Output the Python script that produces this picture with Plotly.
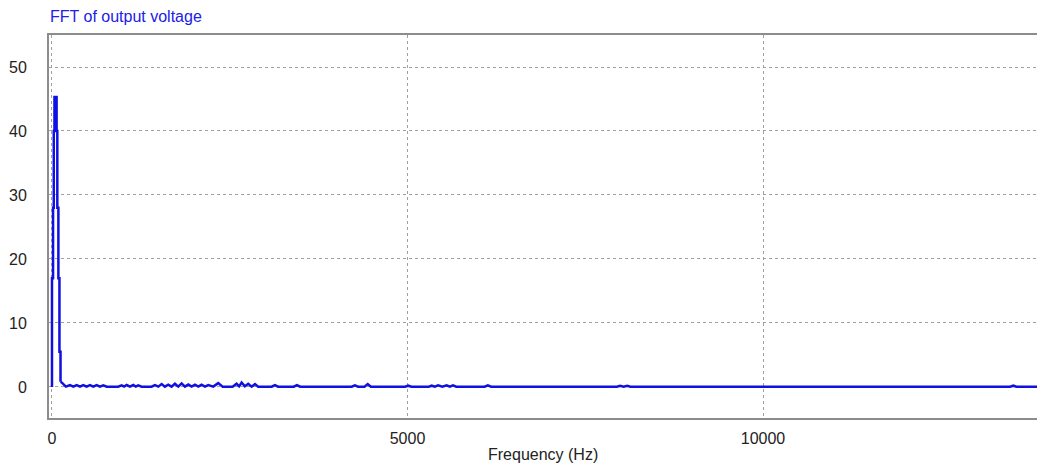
import plotly.graph_objects as go

# Fundamental spike (stepped outline), Hz / magnitude
spike_freq = [0, 0, 15, 25, 35, 65, 75, 90, 105, 120]
spike_mag = [0, 17, 28, 40, 45.3, 40, 28, 17, 5.5, 0.8]

# Harmonic ripple, Hz / magnitude
ripple_freq = [120, 136, 195, 253, 300, 347, 394, 440, 487, 534, 581, 628, 675, 722, 770,
               930, 980, 1015, 1050, 1097, 1143, 1178, 1213, 1260,
               1400, 1448, 1495, 1542, 1588, 1635, 1682, 1729, 1776, 1823, 1870, 1917,
               1964, 2011, 2058, 2104, 2151, 2198, 2268, 2338, 2400,
               2540, 2596, 2632, 2667, 2713, 2760, 2808, 2855, 2900,
               3090, 3135, 3180, 3400, 3445, 3490, 4215, 4260, 4305, 4395, 4440, 4485,
               4965, 5010, 5055, 5300, 5340, 5385, 5430, 5490, 5550, 5595, 5640, 5685,
               6085, 6130, 6175, 7355, 7400, 7445, 7945, 7990, 8040, 8090, 8135,
               13475, 13520, 13565, 13900]
ripple_mag = [0.8, 0.7, 0.05, 0.3, 0.05, 0.3, 0.05, 0.3, 0.05, 0.3, 0.05, 0.3, 0.05, 0.25, 0.05,
              0.05, 0.25, 0.05, 0.3, 0.05, 0.3, 0.05, 0.25, 0.05,
              0.05, 0.3, 0.05, 0.45, 0.05, 0.35, 0.05, 0.5, 0.05, 0.55, 0.05, 0.4,
              0.05, 0.35, 0.05, 0.35, 0.05, 0.3, 0.05, 0.6, 0.05,
              0.05, 0.5, 0.1, 0.7, 0.1, 0.5, 0.05, 0.45, 0.05,
              0.05, 0.3, 0.05, 0.05, 0.3, 0.05, 0.05, 0.25, 0.05, 0.05, 0.45, 0.05,
              0.05, 0.2, 0.05, 0.05, 0.2, 0.05, 0.25, 0.05, 0.25, 0.05, 0.25, 0.05,
              0.05, 0.25, 0.05, 0.05, 0.15, 0.05, 0.05, 0.2, 0.05, 0.2, 0.05,
              0.05, 0.2, 0.05, 0.05]

x_ticks = [0, 5000, 10000]
y_ticks = [0, 10, 20, 30, 40, 50]

BLUE = "#1010e0"
fig = go.Figure()
fig.add_trace(go.Scatter(x=spike_freq, y=spike_mag, mode="lines",
                         line=dict(color=BLUE, width=2.5, shape="hv"), showlegend=False))
fig.add_trace(go.Scatter(x=ripple_freq, y=ripple_mag, mode="lines",
                         line=dict(color=BLUE, width=2.5), showlegend=False))

FAM = "Liberation Sans, Arial, sans-serif"
font = dict(family=FAM, size=16, color="#222222")
fig.update_layout(
    width=1037, height=468,
    margin=dict(l=49, r=0, t=35, b=50, autoexpand=False),
    paper_bgcolor="white", plot_bgcolor="white",
    font=font,
    xaxis=dict(range=[-42, 13853], tickvals=x_ticks, ticktext=[str(v) for v in x_ticks],
               showgrid=True, gridcolor="#a0a0a0", griddash="dot", gridwidth=1,
               zeroline=False, showline=True, linecolor="#8c8c8c", linewidth=2, mirror=True,
               ticks="outside", ticklen=5, tickcolor="rgba(0,0,0,0)", automargin=False),
    yaxis=dict(range=[-4.85, 55], tickvals=y_ticks, ticktext=[str(v) for v in y_ticks],
               showgrid=True, gridcolor="#a0a0a0", griddash="dot", gridwidth=1,
               zeroline=False, showline=True, linecolor="#8c8c8c", linewidth=2,
               ticks="outside", ticklen=17, tickcolor="rgba(0,0,0,0)", automargin=False),
    annotations=[
        dict(text="FFT of output voltage", xref="paper", yref="paper",
             x=0, y=1, xanchor="left", yanchor="middle", yshift=19, xshift=-1,
             showarrow=False, font=dict(family=FAM, size=16, color="#2020e8")),
        dict(text="Frequency (Hz)", xref="paper", yref="paper",
             x=0.5, y=0, xanchor="center", yanchor="middle", yshift=-36,
             showarrow=False, font=dict(family=FAM, size=16, color="#222222")),
    ],
)
fig.write_html("out.html", config={"displayModeBar": False},
               post_script="document.body.style.margin='0';document.body.style.overflow='hidden';")
